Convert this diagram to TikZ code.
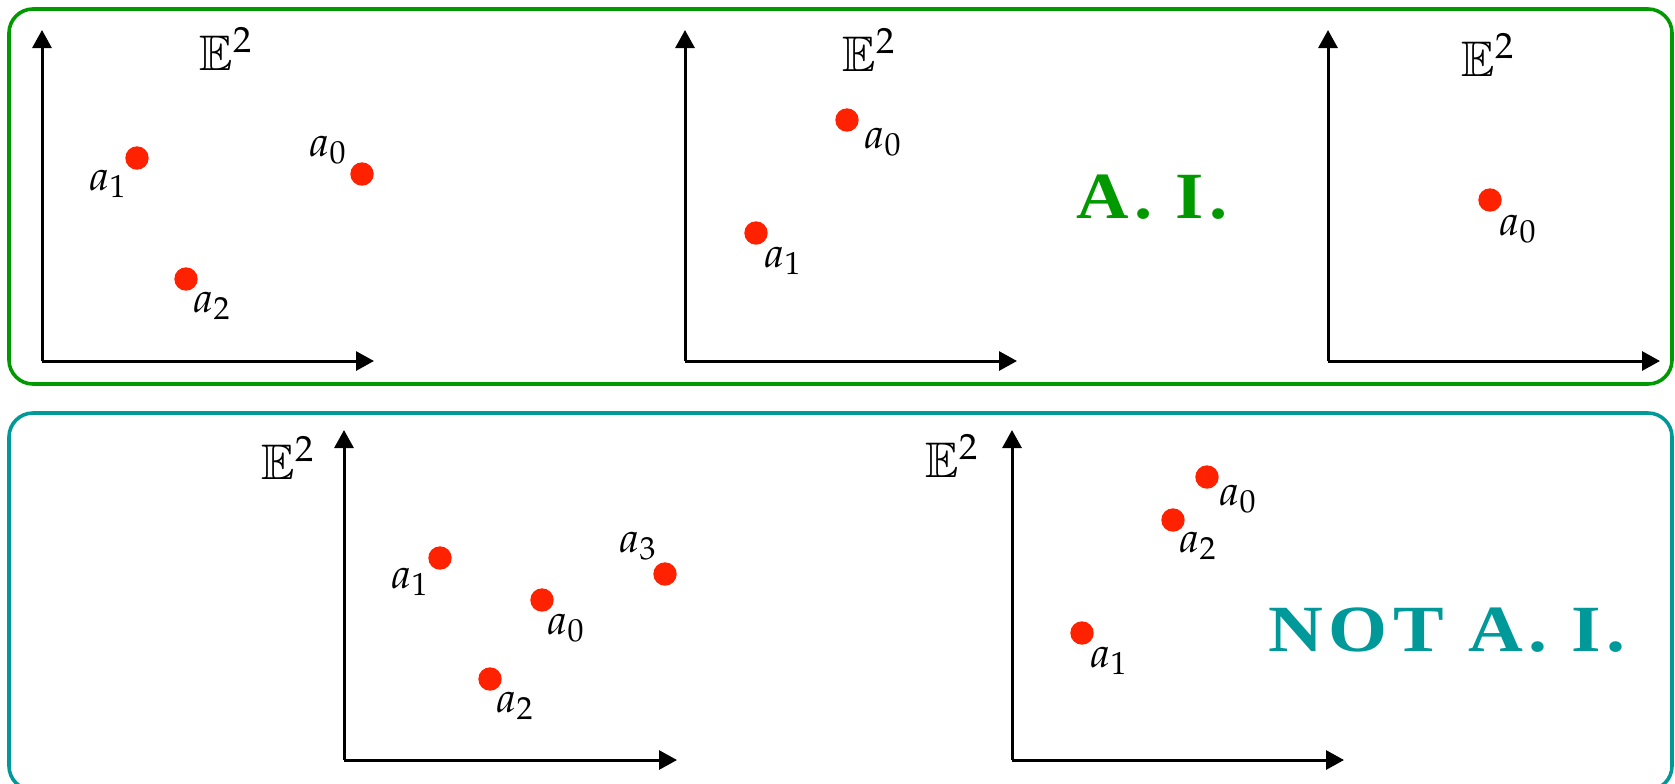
\documentclass[tikz,border=0pt]{standalone}
\usepackage[noBBpl]{mathpazo}
\usepackage{amssymb}
\usepackage[no-math]{fontspec}
\newfontfamily\capfont[LetterSpace=7]{Liberation Serif}
\usetikzlibrary{arrows.meta}
\definecolor{framegreen}{RGB}{0,153,0}
\definecolor{frameteal}{RGB}{0,153,153}
\definecolor{dotred}{RGB}{255,34,0}
\tikzset{
  frame/.style={line width=1.8pt, rounded corners=12pt},
  axis/.style={line width=1.5pt, -{Triangle[length=9pt,width=9.5pt]}},
  dot/.style={circle, fill=dotred, inner sep=0pt, minimum size=11.7pt},
  lbl/.style={inner sep=0pt, font=\fontsize{21}{24}\selectfont},
  space/.style={inner sep=0pt, font=\fontsize{24}{28}\selectfont},
  verdict/.style={inner sep=0pt, font=\capfont\bfseries\fontsize{33}{38}\selectfont}
}
\begin{document}
\begin{tikzpicture}[x=0.5pt,y=-0.5pt]
\useasboundingbox (0,0) rectangle (1675,783);
\clip (0,0) rectangle (1675,783);
% frames
\draw[frame, framegreen] (9,9) rectangle (1672,384);
\draw[frame, frameteal] (9,413) rectangle (1672,790);

% ---------- panel 1 (top left)
\coordinate (o1) at (42,361);
\coordinate (y1) at (42,30);
\coordinate (x1) at (374,361);
\draw[axis] (o1) -- (y1);
\draw[axis] (o1) -- (x1);
\node[space] (e1) at (226,49) {$\mathbb{E}^2$};
\node[dot] (p1a1) at (137,158) {};
\node[dot] (p1a0) at (362,174) {};
\node[dot] (p1a2) at (186,279) {};
\node[lbl] (l1a1) at (108,184) {$a_1$};
\node[lbl] (l1a0) at (328,150) {$a_0$};
\node[lbl] (l1a2) at (212,306) {$a_2$};

% ---------- panel 2 (top middle)
\coordinate (o2) at (685,361);
\coordinate (y2) at (685,30);
\coordinate (x2) at (1017,361);
\draw[axis] (o2) -- (y2);
\draw[axis] (o2) -- (x2);
\node[space] (e2) at (869,50) {$\mathbb{E}^2$};
\node[dot] (p2a0) at (847,120) {};
\node[dot] (p2a1) at (756,233) {};
\node[lbl] (l2a0) at (883,142) {$a_0$};
\node[lbl] (l2a1) at (783,261) {$a_1$};

\node[verdict, framegreen] (ai) at (1152,197) {\scalebox{1.1}[1]{A. I.}};

% ---------- panel 3 (top right)
\coordinate (o3) at (1328,361);
\coordinate (y3) at (1328,30);
\coordinate (x3) at (1660,361);
\draw[axis] (o3) -- (y3);
\draw[axis] (o3) -- (x3);
\node[space] (e3) at (1488,55) {$\mathbb{E}^2$};
\node[dot] (p3a0) at (1490,200) {};
\node[lbl] (l3a0) at (1518,229) {$a_0$};

% ---------- panel 4 (bottom left)
\coordinate (o4) at (344,760);
\coordinate (y4) at (344,430);
\coordinate (x4) at (677,760);
\draw[axis] (o4) -- (y4);
\draw[axis] (o4) -- (x4);
\node[space] (e4) at (288,458) {$\mathbb{E}^2$};
\node[dot] (p4a1) at (440,558) {};
\node[dot] (p4a0) at (542,600) {};
\node[dot] (p4a2) at (490,679) {};
\node[dot] (p4a3) at (665,574) {};
\node[lbl] (l4a1) at (410,582) {$a_1$};
\node[lbl] (l4a0) at (566,628) {$a_0$};
\node[lbl] (l4a2) at (515,706) {$a_2$};
\node[lbl] (l4a3) at (638,546) {$a_3$};

% ---------- panel 5 (bottom right)
\coordinate (o5) at (1012,760);
\coordinate (y5) at (1012,430);
\coordinate (x5) at (1344,760);
\draw[axis] (o5) -- (y5);
\draw[axis] (o5) -- (x5);
\node[space] (e5) at (952,456) {$\mathbb{E}^2$};
\node[dot] (p5a0) at (1207,477) {};
\node[dot] (p5a2) at (1173,520) {};
\node[dot] (p5a1) at (1082,633) {};
\node[lbl] (l5a0) at (1238,499) {$a_0$};
\node[lbl] (l5a2) at (1198,546) {$a_2$};
\node[lbl] (l5a1) at (1109,661) {$a_1$};

\node[verdict, frameteal] (notai) at (1447,630) {\scalebox{1.15}[1]{NOT A. I.}};
\end{tikzpicture}
\end{document}
